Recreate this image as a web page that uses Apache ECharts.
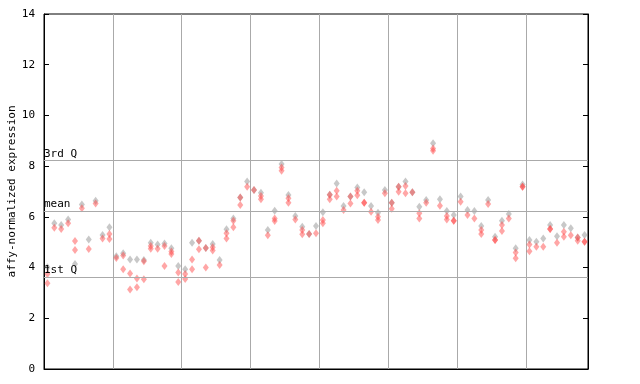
<!DOCTYPE html>
<html><head><meta charset="utf-8">
<script src="https://cdn.jsdelivr.net/npm/echarts@6/dist/echarts.min.js"></script>
<style>html,body{margin:0;padding:0;background:#fff}#c{width:640px;height:384px}</style>
</head><body><div id="c"></div>
<script>
var yTicks = [0, 2, 4, 6, 8, 10, 12, 14];
var quartiles = [
  {name: '3rd Q', value: 8.23},
  {name: 'mean', value: 6.23},
  {name: '1st Q', value: 3.63}
];
var sampleCount = 79;
var groupSize = 10;
var grayValues = [4.01, 5.75, 5.68, 5.9, 4.14, 6.49, 5.11, 6.64, 5.28, 5.59,
  4.45, 4.56, 4.32, 4.32, 4.3, 4.98, 4.91, 4.95, 4.76, 4.06,
  3.93, 4.98, 5.06, 4.77, 4.93, 4.3, 5.51, 5.94, 6.76, 7.39,
  7.06, 6.95, 5.48, 6.24, 8.08, 6.86, 6.03, 5.61, 5.32, 5.64,
  6.18, 6.87, 7.32, 6.43, 6.8, 7.16, 6.97, 6.43, 6.16, 7.06,
  6.56, 7.19, 7.39, 6.97, 6.4, 6.66, 8.9, 6.69, 6.23, 6.07,
  6.8, 6.27, 6.23, 5.64, 6.66, 5.22, 5.85, 6.11, 4.76, 7.28,
  5.09, 5.02, 5.15, 5.68, 5.24, 5.68, 5.55, 5.19, 5.28];
var redValues = [[3.75, 3.38], [5.57], [5.52], [5.75], [5.05, 4.69], [6.34], [4.73], [6.53], [5.15], [5.32, 5.13],
  [4.38], [4.48, 3.93], [3.77, 3.14], [3.57, 3.22], [4.25, 3.54], [4.85, 4.74], [4.74], [4.85, 4.06], [4.63, 4.54], [3.81, 3.43],
  [3.75, 3.55], [4.32, 3.93], [5.06, 4.72], [4.77, 4.0], [4.8, 4.67], [4.1], [5.35, 5.15], [5.85, 5.59], [6.76, 6.47], [7.19],
  [7.06], [6.82, 6.69], [5.27], [5.94, 5.84], [7.95, 7.82], [6.73, 6.56], [5.9], [5.48, 5.31], [5.32], [5.35],
  [5.88, 5.75], [6.87, 6.69], [7.03, 6.8], [6.27], [6.8, 6.53], [7.03, 6.85], [6.56, 6.56], [6.2], [6.0, 5.88], [6.93],
  [6.56, 6.32], [7.19, 6.99], [7.22, 6.93], [6.97], [6.14, 5.94], [6.56], [8.7, 8.61], [6.44], [6.03, 5.9], [5.85, 5.85],
  [6.6], [6.07], [5.94], [5.48, 5.32], [6.51], [5.09, 5.09], [5.68, 5.44], [5.94], [4.59, 4.37], [7.19, 7.19],
  [4.91, 4.64], [4.82], [4.82], [5.52, 5.52], [4.98], [5.41, 5.22], [5.27], [5.19, 5.06], [5.02, 5.02]];

var grayData = grayValues.map(function (v, i) { return [i + 0.5, v]; });
var redData = [];
redValues.forEach(function (arr, i) { arr.forEach(function (v) { redData.push([i + 0.5, v]); }); });

var FONT = 'DejaVu Sans Mono';
var chart = echarts.init(document.getElementById('c'), null, {renderer: 'canvas'});
chart.setOption({
  animation: false,
  backgroundColor: '#fff',
  grid: {left: 44, right: 52, top: 14, bottom: 15, outerBoundsMode: 'none', containLabel: false,
    show: true, borderColor: '#000', borderWidth: 1, backgroundColor: 'transparent'},
  xAxis: {
    type: 'value', min: 0, max: sampleCount, interval: groupSize,
    axisLine: {show: true, lineStyle: {color: '#000'}},
    axisTick: {show: false}, axisLabel: {show: false},
    splitLine: {show: true, lineStyle: {color: '#aaaaaa', width: 1}}
  },
  yAxis: [{
    type: 'value', min: 0, max: 14, interval: 2,
    name: 'affy-normalized expression', nameLocation: 'middle', nameGap: 26, nameMoveOverlap: false,
    nameTextStyle: {fontFamily: FONT, fontSize: 11, color: '#000'},
    axisLine: {show: true, lineStyle: {color: '#000'}},
    axisTick: {show: true, inside: true, length: 5, lineStyle: {color: '#000'}},
    axisLabel: {fontFamily: FONT, fontSize: 11, color: '#000', margin: 9,
      formatter: function (v) { return yTicks.indexOf(v) >= 0 ? String(v) : ''; }},
    splitLine: {show: false}
  }, {
    type: 'value', min: 0, max: 14, interval: 2, position: 'right',
    axisLine: {show: true, lineStyle: {color: '#000'}},
    axisTick: {show: true, inside: true, length: 5, lineStyle: {color: '#000'}},
    axisLabel: {show: false}, splitLine: {show: false}
  }],
  series: [{
    type: 'scatter', name: 'gray', data: grayData,
    symbol: 'diamond', symbolSize: [6, 8],
    itemStyle: {color: 'rgba(150,150,150,0.65)'},
    markLine: {
      silent: true, symbol: 'none',
      lineStyle: {color: '#aaaaaa', width: 1, type: 'solid'},
      label: {show: true, position: 'insideStartTop', distance: [0, 1], fontFamily: FONT, fontSize: 11, color: '#000',
        formatter: function (p) { return p.name; }},
      data: quartiles.map(function (q) { return {name: q.name, yAxis: q.value}; })
    },
    z: 3
  }, {
    type: 'scatter', name: 'red', data: redData,
    symbol: 'diamond', symbolSize: [6, 8],
    itemStyle: {color: 'rgba(255,70,70,0.6)'},
    z: 4
  }]
});
</script>
</body></html>
